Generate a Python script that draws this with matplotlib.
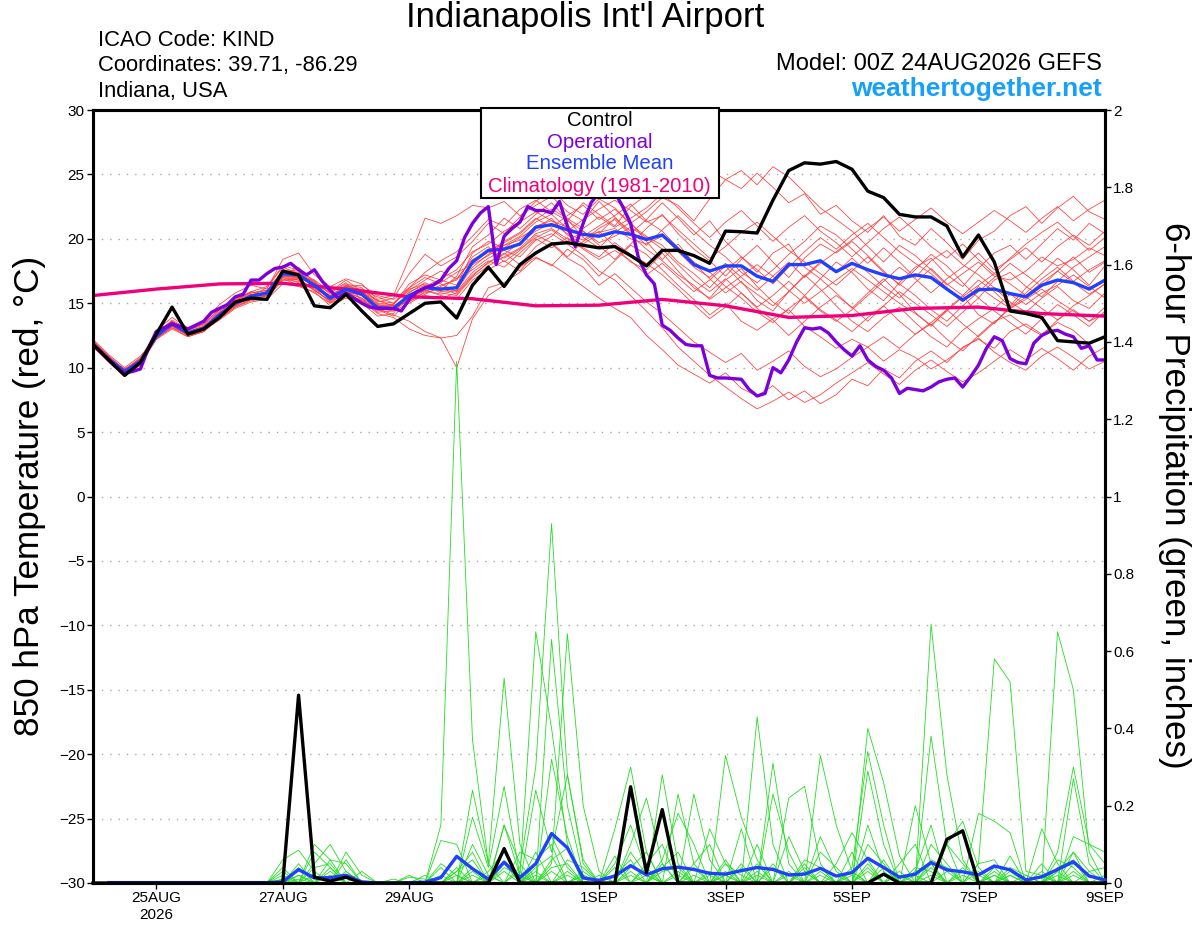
import numpy as np
import matplotlib.pyplot as plt
from matplotlib.patches import Rectangle

plt.rcParams['font.family'] = ['Liberation Sans', 'DejaVu Sans']

# x axis: days after 00Z 24AUG2026, ensemble at 6-hour steps (65 steps)
tick_days = [1, 3, 5, 8, 10, 12, 14, 16]
tick_labels = ["25AUG\n2026", "27AUG", "29AUG", "1SEP", "3SEP", "5SEP", "7SEP", "9SEP"]

# control run 850 hPa temperature (C), 6-hourly
control_t = [11.8, 10.6, 9.4, 10.4, 12.6, 14.7, 12.6, 13.0, 13.9, 15.1, 15.4, 15.3,
             17.5, 17.2, 14.8, 14.65, 15.7, 14.4, 13.2, 13.4, 14.2, 15.0, 15.1, 13.85,
             16.4, 17.8, 16.3, 18.0, 18.9, 19.6, 19.7, 19.5, 19.3, 19.4, 18.7, 17.9,
             19.1, 19.1, 18.7, 18.1, 20.6, 20.55, 20.45, 23.0, 25.3, 25.9, 25.8, 26.0,
             25.4, 23.7, 23.2, 21.9, 21.7, 21.7, 21.0, 18.6, 20.3, 18.2, 14.4, 14.2,
             13.9, 12.1, 12.0, 11.9, 12.4]

# ensemble mean 850 hPa temperature, 6-hourly
mean_t = [11.85, 10.65, 9.7, 10.5, 12.45, 13.4, 12.7, 13.05, 14.1, 15.0, 15.55, 15.8,
          17.3, 17.2, 16.4, 15.4, 16.1, 15.7, 14.65, 14.6, 15.6, 16.2, 16.1, 16.2,
          18.2, 19.1, 19.2, 19.6, 20.9, 21.1, 20.7, 20.35, 20.2, 20.55, 20.35, 19.95,
          20.3, 19.2, 18.0, 17.5, 17.9, 17.9, 17.1, 16.7, 18.0, 18.0, 18.3, 17.45,
          18.1, 17.6, 17.2, 16.9, 17.2, 17.0, 16.1, 15.25, 16.05, 16.1, 15.75, 15.5,
          16.4, 16.8, 16.6, 16.1, 16.8]

# operational run, 3-hourly (129 values)
oper_t = [11.8, 11.2, 10.6, 10.0, 9.6, 9.7, 9.9, 11.5,
          12.8, 13.1, 13.4, 13.2, 13.0, 13.3, 13.6, 14.3,
          14.6, 14.9, 15.5, 15.7, 16.8, 16.8, 17.3, 17.7,
          17.8, 18.1, 17.6, 17.2, 17.6, 16.7, 16.0, 15.4,
          15.8, 15.4, 15.0, 14.7, 14.6, 14.6, 14.6, 14.4,
          15.3, 15.9, 16.2, 16.4, 16.8, 17.7, 18.3, 20.1,
          21.2, 22.0, 22.5, 18.0, 20.2, 20.8, 21.3, 22.5,
          22.2, 22.2, 22.0, 22.9, 21.0, 19.4, 21.2, 22.8,
          23.6, 24.2, 23.6, 22.5, 21.2, 18.5, 17.2, 16.5,
          13.3, 12.9, 12.3, 11.8, 11.7, 11.7, 9.4, 9.2,
          9.2, 9.15, 9.1, 8.3, 7.8, 8.0, 10.0, 9.6,
          10.6, 12.0, 13.1, 13.0, 13.1, 12.7, 12.0, 11.4,
          10.9, 11.7, 10.6, 10.1, 9.8, 9.2, 8.0, 8.4,
          8.3, 8.2, 8.5, 8.9, 9.1, 9.2, 8.5, 9.3,
          10.2, 11.5, 12.4, 12.1, 10.7, 10.4, 10.3, 11.9,
          12.5, 12.8, 12.9, 12.6, 12.4, 11.5, 11.7, 10.6,
          10.6]

# climatology (1981-2010), daily
clim_t = [15.6, 16.1, 16.5, 16.55, 16.1, 15.5, 15.35, 14.8, 14.85,
          15.3, 14.8, 13.9, 14.05, 14.6, 14.7, 14.2, 14.0]

# ensemble members, 850 hPa temperature, 6-hourly
temp_members = [
    "12.0 10.9 9.8 10.7 12.8 13.6 12.9 13.4 14.6 15.3 15.9 16.3 17.9 17.6 16.0 15.2 16.4 16.0 15.5 15.0 16.2 17.4 18.3 19.0 20.2 21.5 21.0 22.3 23.0 22.1 21.4 22.8 21.9 21.0 22.5 23.4 24.1 23.2 24.8 25.3 24.6 23.9 25.1 24.0 22.8 23.5 21.9 22.6 21.4 20.5 21.8 20.2 19.5 20.8 19.7 18.4 19.9 20.6 21.8 22.5 21.2 22.4 23.3 22.1 21.5",
    "11.7 10.5 9.5 10.2 12.2 13.0 12.4 12.8 13.8 14.7 15.2 15.4 16.8 16.9 16.8 15.9 16.6 15.2 14.2 13.9 13.0 12.5 12.3 12.5 14.0 16.2 16.6 17.4 18.5 18.0 17.2 16.3 15.4 14.6 13.9 12.5 11.4 10.2 9.5 8.8 9.6 8.4 7.8 8.6 7.5 8.2 7.2 7.9 9.1 8.6 9.9 9.2 10.5 11.3 10.4 11.6 12.2 11.5 12.8 13.4 12.6 13.5 12.9 11.8 12.4",
    "11.9 10.7 9.9 10.6 12.4 13.3 12.5 13.0 14.0 14.8 15.5 15.6 17.0 16.8 16.2 15.6 15.8 15.2 14.6 14.1 13.6 12.8 12.3 10.0 13.8 15.6 16.4 17.8 18.6 17.9 19.2 18.4 17.1 18.3 19.5 18.8 17.6 16.4 15.3 14.1 15.0 13.6 12.9 13.8 14.5 13.2 12.4 11.5 12.2 11.6 10.5 11.4 10.8 9.9 10.6 11.5 12.3 11.2 10.4 9.8 10.9 11.6 10.8 9.9 10.5",
    "12.1 10.8 9.6 10.4 12.9 13.9 13.1 13.6 14.9 15.8 16.4 16.1 18.4 18.9 17.2 16.3 16.9 16.5 15.3 15.6 18.5 21.6 21.2 21.8 22.6 22.4 22.9 21.8 22.6 23.3 22.1 21.4 22.9 21.7 20.4 21.5 22.8 21.6 20.3 21.4 19.8 18.6 17.4 18.9 19.6 17.8 16.9 18.2 17.4 16.1 15.2 16.6 17.8 18.5 17.2 16.3 17.7 18.9 19.5 18.4 19.6 20.8 19.9 21.2 20.4",
    "11.6 10.4 9.3 10.3 12.6 13.2 12.8 13.2 14.3 14.9 15.4 15.9 17.6 17.5 16.8 15.1 15.7 15.9 14.9 14.8 15.1 15.9 16.4 16.8 18.6 19.4 18.2 19.1 20.3 19.7 18.6 19.8 20.6 19.4 18.2 17.6 18.9 17.5 16.2 15.4 16.8 17.7 16.3 15.1 14.2 15.6 16.9 15.8 14.6 15.8 16.9 15.7 14.3 13.2 14.5 15.6 14.1 13.4 14.8 16.2 17.3 18.5 17.6 16.4 17.9",
    "12.2 11.0 10.0 10.9 12.3 13.5 12.6 12.9 13.7 14.6 15.1 15.3 16.5 16.3 15.9 14.8 15.4 15.0 14.0 14.2 15.8 16.6 16.0 17.1 19.4 20.3 21.6 20.8 21.9 22.8 21.5 20.1 19.3 20.5 21.3 19.8 18.4 19.6 18.1 16.9 15.8 16.7 15.2 14.4 15.9 17.2 16.1 14.8 13.6 12.8 13.9 14.7 13.5 12.4 11.6 12.9 13.8 14.6 15.7 14.9 15.8 16.4 17.2 16.3 15.4",
    "11.8 10.6 9.8 10.5 12.5 13.6 12.9 13.3 14.4 15.2 15.8 16.0 17.2 17.8 16.6 15.8 16.5 16.2 15.1 15.4 17.3 18.8 17.9 18.6 19.8 21.2 20.4 21.7 22.9 23.8 22.6 21.9 23.1 22.4 21.2 22.1 23.2 22.6 21.4 23.1 24.6 25.3 24.2 25.6 24.8 23.6 22.4 21.5 20.6 19.4 18.2 19.5 18.7 17.6 16.4 17.3 18.2 17.1 16.8 17.5 18.6 17.9 18.4 19.3 18.7",
    "11.9 10.8 9.7 10.6 12.6 13.3 12.5 12.8 14.0 14.9 15.7 15.5 17.0 16.6 16.1 15.5 16.3 15.8 14.5 14.0 15.2 15.6 15.4 15.8 17.2 18.1 18.9 18.0 19.4 20.2 21.4 20.6 19.5 18.4 19.6 20.8 21.9 20.4 19.2 18.3 17.1 18.4 19.5 18.2 17.0 18.5 19.6 18.9 19.8 18.7 17.5 16.4 17.6 18.8 17.9 16.6 15.4 16.8 17.4 16.3 15.5 16.7 17.8 18.6 19.4",
    "11.7 10.6 9.6 10.4 12.3 13.1 12.6 13.0 13.9 14.8 15.3 15.6 16.9 16.4 15.8 15.0 15.5 15.3 14.4 14.6 15.3 16.0 15.6 15.3 16.8 17.6 18.3 17.5 18.9 19.6 18.5 17.8 16.4 17.3 16.2 15.1 14.2 13.1 12.0 11.2 10.4 11.1 9.8 10.5 11.3 10.1 9.3 9.9 10.8 11.6 12.4 11.5 12.6 13.4 12.2 11.3 12.5 13.6 14.1 13.2 12.5 13.7 14.5 13.6 14.2",
    "12.0 10.7 9.8 10.5 12.7 13.5 12.8 13.2 14.2 15.1 15.6 16.2 17.8 17.3 16.7 15.7 16.2 16.1 15.2 15.0 16.0 16.8 17.5 16.9 18.4 19.0 19.8 20.5 21.6 20.9 21.8 22.6 21.5 22.3 21.1 20.2 19.5 18.2 17.3 16.2 17.5 18.6 17.6 16.5 17.8 19.0 20.1 19.2 20.3 21.2 20.1 19.0 18.1 17.3 16.2 15.1 16.3 15.4 14.6 15.3 16.1 15.2 14.4 13.6 14.7",
    "11.8 10.5 9.5 10.3 12.2 13.2 12.5 12.9 14.1 15.0 15.4 15.7 17.1 17.0 16.5 15.3 16.0 15.6 14.8 14.7 15.4 16.1 16.6 17.4 18.0 18.7 19.5 20.2 21.3 21.9 20.8 20.2 21.0 21.8 22.7 21.4 20.6 19.3 18.2 17.4 16.3 15.4 14.3 13.5 14.6 15.5 14.4 13.6 14.5 15.6 16.7 17.8 16.9 15.8 16.9 17.8 18.9 17.6 18.4 19.3 18.2 19.4 20.3 19.5 20.6",
    "11.9 10.8 9.9 10.7 12.4 13.4 12.7 13.1 14.2 15.2 15.9 15.7 17.4 17.1 16.3 15.6 16.4 15.9 15.0 14.9 16.5 17.2 16.8 16.4 18.9 19.8 19.3 20.1 20.8 21.6 20.3 19.6 20.4 21.6 20.6 19.5 20.7 21.8 20.6 19.5 18.6 17.4 16.6 17.6 18.8 19.8 21.0 20.3 19.2 18.1 19.3 18.2 17.0 18.3 19.1 18.0 17.2 16.2 15.1 14.3 15.4 16.3 15.2 14.6 15.8",
    "11.8 10.6 9.6 10.4 12.5 13.3 12.6 13.0 14.0 14.9 15.6 15.9 17.2 16.9 16.0 15.2 15.8 15.4 14.3 14.4 15.0 15.7 16.3 16.9 17.6 18.5 19.1 18.6 19.9 20.4 19.6 18.7 17.5 16.8 15.6 14.4 13.1 11.6 10.5 9.4 8.5 7.6 6.8 7.4 8.1 7.3 7.9 8.8 9.6 10.4 9.5 8.7 9.8 10.6 9.7 8.9 9.6 10.5 11.4 10.6 11.5 10.7 9.8 10.9 11.6",
    "12.1 10.9 9.8 10.8 12.6 13.7 13.0 13.4 14.5 15.4 15.8 16.0 17.5 17.4 16.6 15.4 16.3 16.4 15.6 15.3 16.2 17.0 16.5 15.9 17.4 18.3 17.8 18.9 20.0 19.3 20.1 19.2 18.4 19.1 18.3 17.2 18.1 17.0 15.9 16.8 17.9 16.6 15.7 14.8 15.9 17.1 18.2 17.4 18.5 17.4 16.3 15.4 16.6 17.7 16.5 15.6 16.8 15.9 14.7 15.8 16.9 17.8 16.7 17.6 18.3",
    "11.9 10.7 9.7 10.6 12.4 13.4 12.8 13.1 14.0 15.1 15.5 15.9 17.3 17.0 16.4 15.9 16.8 15.9 15.2 14.8 15.6 16.3 16.9 17.6 19.0 19.6 20.6 21.3 22.1 21.4 20.6 21.5 22.3 23.0 22.2 21.3 21.8 20.7 19.6 18.5 19.4 20.5 21.3 20.2 19.1 18.2 17.3 16.4 17.5 18.6 17.4 16.5 15.6 14.5 13.6 14.8 15.9 17.0 18.1 17.2 16.3 17.5 18.6 17.4 18.2",
    "11.7 10.5 9.4 10.2 12.3 13.1 12.4 12.8 13.8 14.7 15.3 15.6 16.8 16.7 16.2 15.0 15.9 15.4 14.6 14.5 15.9 16.4 15.8 15.6 17.0 17.9 18.6 19.3 20.4 20.8 20.0 19.3 18.6 19.7 18.8 18.1 17.2 16.1 14.9 13.8 14.7 15.8 14.6 13.7 12.5 13.6 14.7 15.6 14.7 13.6 14.8 15.9 15.0 14.1 13.2 14.3 15.4 14.4 13.5 12.6 13.8 14.9 14.1 13.2 14.4",
    "12.0 10.8 9.7 10.5 12.5 13.5 12.7 13.1 14.3 15.2 15.7 15.8 17.4 17.3 16.5 15.5 16.1 15.9 14.8 14.9 16.1 16.5 15.9 16.0 17.8 18.8 19.7 20.4 21.5 22.3 21.6 20.8 21.7 20.9 21.6 22.4 23.5 22.4 21.2 20.1 21.3 22.2 21.0 19.8 20.9 21.8 20.6 19.7 18.6 19.7 20.8 21.7 20.6 19.4 18.5 19.6 18.4 17.3 18.5 19.6 20.5 21.3 20.2 19.1 20.1",
    "11.8 10.7 9.8 10.6 12.4 13.3 12.6 13.0 14.1 15.0 15.5 15.7 17.1 16.8 16.0 15.2 15.9 15.6 14.6 14.4 15.3 15.8 16.2 15.7 17.1 18.2 18.8 19.7 20.6 21.2 20.4 19.9 20.8 21.5 20.3 19.2 18.3 17.2 16.4 15.3 16.2 17.1 18.0 17.1 16.0 15.0 15.9 16.8 17.7 16.8 15.9 15.0 14.2 13.3 14.4 15.5 16.4 17.3 16.5 15.6 16.6 17.5 16.6 15.7 16.5",
    "11.9 10.6 9.6 10.4 12.6 13.4 12.6 13.0 14.0 15.0 15.6 15.8 17.2 17.1 16.3 15.3 16.0 15.7 14.7 14.5 15.5 16.0 15.7 16.0 18.3 19.0 18.5 19.2 20.1 20.7 19.8 20.6 19.7 20.2 20.9 20.1 19.2 18.0 16.8 15.9 16.9 15.8 14.7 15.6 16.7 15.6 14.5 13.7 12.8 13.9 14.8 13.6 12.6 13.5 14.5 13.4 12.4 13.5 14.6 15.5 14.6 13.7 14.8 15.6 16.5",
    "11.8 10.6 9.7 10.5 12.5 13.4 12.7 13.1 14.1 14.9 15.5 15.7 17.2 17.0 16.4 15.4 16.1 15.7 14.7 14.6 15.7 16.2 16.0 16.3 18.1 19.2 19.5 19.9 21.0 21.4 20.9 20.3 20.5 20.8 20.0 19.6 20.2 19.0 17.8 17.0 18.1 17.0 16.0 17.1 18.2 17.0 18.1 19.0 19.9 20.8 21.7 20.6 21.5 22.4 21.3 20.4 21.3 22.2 21.4 20.5 21.6 22.5 21.4 22.3 23.0",
]

# 6-hour precipitation (inches), control and ensemble mean
control_p = [0, 0, 0, 0, 0, 0, 0, 0, 0, 0, 0, 0, 0, 0.486, 0.015, 0.005, 0.015,
             0, 0, 0, 0, 0, 0, 0, 0, 0, 0.089, 0, 0, 0, 0, 0, 0, 0, 0.249, 0.027,
             0.19, 0, 0, 0, 0, 0, 0, 0, 0, 0, 0, 0, 0, 0, 0.023, 0, 0, 0, 0.113,
             0.135, 0, 0, 0, 0, 0, 0, 0, 0, 0]
mean_p = [0.001, 0.001, 0.001, 0.001, 0.001, 0.001, 0.001, 0.001, 0.001, 0.001, 0.001, 0.003,
          0.035, 0.013, 0.014, 0.02, 0.003, 0, 0, 0.001, 0.002, 0.014, 0.069, 0.037,
          0.01, 0.054, 0.014, 0.05, 0.128, 0.091, 0.013, 0.007, 0.018, 0.045, 0.021, 0.037,
          0.041, 0.035, 0.025, 0.023, 0.032, 0.04, 0.035, 0.021, 0.023, 0.038, 0.018, 0.027,
          0.064, 0.04, 0.015, 0.023, 0.053, 0.034, 0.029, 0.021, 0.044, 0.034, 0.008, 0.016,
          0.035, 0.055, 0.018, 0.008]  # steps 1..64

# ensemble members, 6-hour precipitation: {step: inches}, other steps are 0
precip_members = [
    {12: .01, 13: .03, 14: .02, 22: .15, 23: 1.35, 24: .37, 25: .05, 28: .05, 29: .12, 30: .04, 34: .08,
     35: .02, 40: .05, 41: .02, 45: .03, 49: .1, 50: .05, 53: .04, 57: .02, 61: .03, 62: .08},
    {13: .02, 15: .04, 23: .03, 24: .08, 27: .04, 28: .3, 29: .93, 30: .28, 31: .05, 36: .06, 37: .18,
     38: .1, 42: .05, 46: .12, 47: .03, 53: .1, 54: .05, 58: .03, 62: .27, 63: .05},
    {14: .05, 15: .1, 16: .03, 22: .11, 23: .1, 26: .15, 27: .02, 28: .65, 29: .4, 30: .1, 33: .14,
     34: .3, 35: .08, 40: .33, 41: .17, 42: .06, 49: .4, 50: .26, 51: .07, 56: .05, 57: .58, 58: .52,
     59: .03, 60: .02},
    {12: .06, 13: .085, 14: .03, 24: .24, 25: .05, 26: .53, 27: .1, 29: .05, 30: .645, 31: .2, 32: .03,
     36: .28, 37: .05, 42: .43, 43: .1, 48: .04, 49: .34, 50: .15, 53: .67, 54: .28, 55: .06, 61: .08,
     62: .3, 63: .1, 64: .08},
    {13: .04, 16: .08, 17: .02, 21: .02, 24: .17, 25: .04, 26: .25, 27: .02, 29: .63, 30: .2, 31: .02,
     34: .1, 35: .22, 36: .05, 38: .23, 39: .06, 43: .31, 44: .05, 46: .33, 47: .15, 48: .03, 53: .38,
     54: .1, 55: .16, 56: .04, 61: .65, 62: .5, 63: .08},
    {12: .03, 15: .06, 16: .05, 20: .02, 22: .05, 23: .02, 26: .15, 27: .05, 29: .32, 30: .12, 33: .05,
     34: .15, 35: .03, 37: .23, 38: .05, 41: .14, 44: .22, 45: .25, 46: .05, 49: .29, 50: .1, 52: .2,
     53: .05, 56: .18, 57: .16, 58: .13, 60: .14, 61: .05},
    {14: .04, 15: .05, 24: .1, 25: .02, 28: .24, 29: .08, 30: .28, 31: .06, 35: .05, 36: .1, 39: .14,
     40: .05, 43: .23, 44: .08, 47: .05, 48: .13, 49: .06, 51: .05, 52: .1, 54: .1, 55: .05, 58: .04,
     59: .02, 62: .12, 63: .1, 64: .05},
    {13: .02, 16: .03, 23: .04, 25: .03, 26: .08, 28: .02, 30: .06, 31: .04, 33: .02, 34: .06, 36: .04,
     37: .08, 40: .03, 42: .1, 45: .06, 46: .04, 49: .15, 50: .03, 54: .1, 56: .05, 57: .06, 61: .04,
     62: .06},
    {15: .02, 22: .04, 24: .02, 27: .08, 28: .06, 29: .1, 31: .02, 34: .04, 35: .08, 38: .05, 39: .1,
     41: .05, 44: .12, 45: .03, 48: .08, 50: .06, 52: .03, 53: .15, 55: .04, 58: .07, 60: .05, 62: .08,
     63: .03, 64: .04},
    {12: .02, 14: .02, 26: .04, 27: .02, 29: .06, 30: .09, 33: .07, 36: .03, 37: .04, 40: .06, 43: .05,
     46: .08, 47: .04, 50: .04, 53: .06, 54: .04, 57: .03, 59: .02, 61: .06, 62: .04},
    {13: .05, 17: .03, 23: .03, 24: .06, 28: .04, 29: .07, 32: .02, 35: .04, 39: .03, 42: .02, 45: .05,
     49: .05, 51: .02, 55: .03, 56: .02, 60: .03},
    {14: .08, 15: .04, 25: .02, 29: .04, 30: .05, 34: .03, 37: .03, 41: .04, 44: .03, 48: .02, 52: .04,
     53: .03, 57: .04, 62: .05, 63: .02},
    {12: .04, 16: .06, 22: .02, 26: .05, 28: .08, 31: .03, 36: .05, 38: .02, 43: .04, 46: .02, 49: .04,
     54: .03, 58: .02, 61: .03},
    {15: .03, 19: .01, 24: .04, 27: .03, 30: .03, 33: .04, 40: .02, 45: .04, 50: .02, 53: .05, 56: .03,
     62: .03, 64: .02},
    {13: .01, 20: .015, 21: .01, 29: .03, 34: .02, 38: .04, 42: .03, 47: .02, 49: .03, 55: .02, 60: .02},
    {16: .02, 23: .02, 28: .03, 35: .02, 39: .02, 44: .02, 48: .03, 52: .02, 57: .02, 63: .03},
    {14: .1, 15: .06, 26: .03, 30: .02, 37: .02, 46: .03, 53: .02, 61: .02},
    {12: .01, 24: .03, 31: .02, 40: .02, 51: .03, 58: .02, 62: .02},
]

n_steps = len(control_t)
days = np.arange(n_steps) / 4.0
oper_days = np.arange(len(oper_t)) / 8.0
clim_days = np.arange(len(clim_t))

fig = plt.figure(figsize=(12, 9.27), dpi=100)
ax = fig.add_axes([93 / 1200, 44 / 927, 1012 / 1200, 773 / 927])
ax2 = ax.twinx()

# temperature ensemble
for s in temp_members:
    vals = np.array(s.split(), dtype=float)
    ax.plot(days, vals, color='#ff3a3a', lw=0.55, zorder=2)

ax.plot(clim_days, clim_t, color='#f0007a', lw=2.4, zorder=4)
ax.plot(days, mean_t, color='#2040ff', lw=2.4, zorder=5)
ax.plot(oper_days, oper_t, color='#7c00dc', lw=2.4, zorder=6)
ax.plot(days, control_t, color='black', lw=2.4, zorder=7)

# precipitation ensemble
for m in precip_members:
    vals = np.zeros(n_steps)
    for k, v in m.items():
        vals[k] = v
    ax2.plot(days[1:], vals[1:], color='#22dd22', lw=0.6, zorder=2)
ax2.plot(days[1:], mean_p, color='#2040ff', lw=2.4, zorder=5, clip_on=False)
ax2.plot(days, control_p, color='black', lw=2.4, zorder=6, clip_on=False)

ax.set_xlim(0, 16)
ax.set_ylim(-30, 30)
ax2.set_ylim(0, 2)

ax.set_yticks(range(-30, 31, 5))
ax.yaxis.grid(True, linestyle=(0, (1, 5)), color='#a8a8a8', lw=1)
ax.set_xticks(tick_days)
ax.set_xticklabels(tick_labels)
ax2.set_yticks(np.arange(0, 2.01, 0.2))
ax2.set_yticklabels(['%g' % round(v, 1) for v in np.arange(0, 2.01, 0.2)])

for a in (ax, ax2):
    for sp in a.spines.values():
        sp.set_linewidth(2.2)
    a.tick_params(direction='out', length=4, width=1, labelsize=11, pad=2)

fig.text(30 / 1200, 1 - 496 / 927, "850 hPa Temperature (red, \u00b0C)",
         rotation=90, ha='center', va='center', fontsize=25.3)
fig.text(1174 / 1200, 1 - 495 / 927, "6-hour Precipitation (green, inches)",
         rotation=-90, ha='center', va='center', fontsize=25.2)

# header
fig.text(585 / 1200, 1 - 18 / 927, "Indianapolis Int'l Airport", ha='center', va='center', fontsize=25)
fig.text(98 / 1200, 1 - 40 / 927, "ICAO Code: KIND", va='center', fontsize=15.8)
fig.text(98 / 1200, 1 - 66 / 927, "Coordinates: 39.71, -86.29", va='center', fontsize=15.8)
fig.text(98 / 1200, 1 - 92 / 927, "Indiana, USA", va='center', fontsize=15.8)
fig.text(1102 / 1200, 1 - 64 / 927, "Model: 00Z 24AUG2026 GEFS", ha='right', va='center', fontsize=17)
fig.text(1102 / 1200, 1 - 89 / 927, "weathertogether.net", ha='right', va='center',
         fontsize=19, fontweight='bold', color='#18a0f8')

# legend box
box = Rectangle((480.5 / 1200, 1 - 198 / 927), 238.5 / 1200, 90 / 927, transform=fig.transFigure,
                facecolor='white', edgecolor='black', lw=1.5, zorder=10)
fig.add_artist(box)
legend_items = [("Control", 'black', 121), ("Operational", '#7c00dc', 142),
                ("Ensemble Mean", '#2040ff', 163.5), ("Climatology (1981-2010)", '#f0007a', 186)]
for txt, col, ypx in legend_items:
    fig.text(599.5 / 1200, 1 - ypx / 927, txt, color=col, ha='center', va='center',
             fontsize=14.7, zorder=11)

fig.savefig('out.png', dpi=100)
